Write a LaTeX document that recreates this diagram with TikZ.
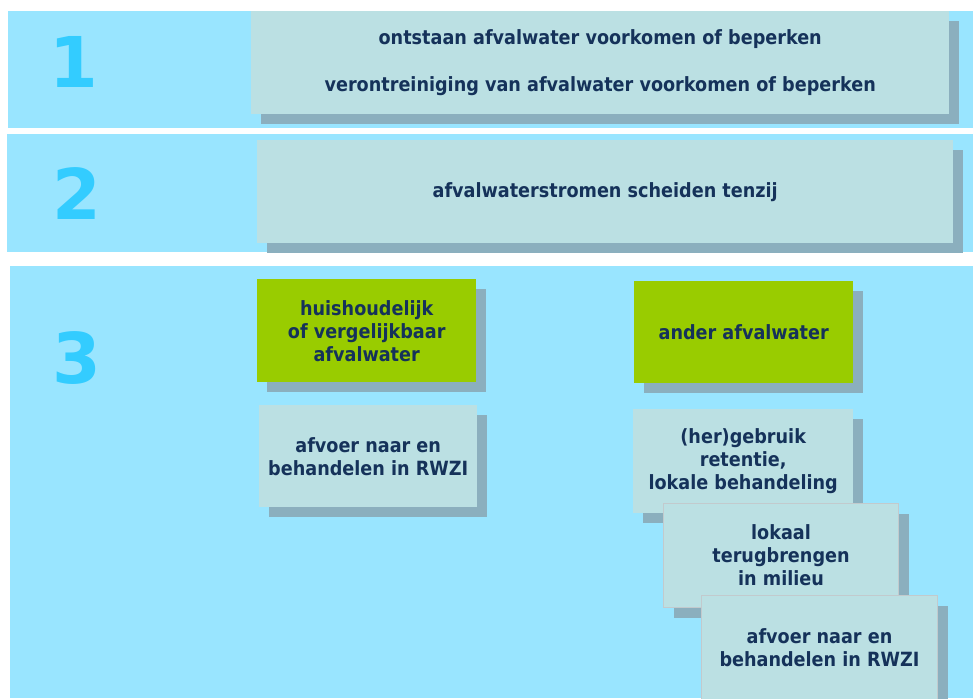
\documentclass[tikz,border=0pt]{standalone}
\usepackage{fontspec}
\newfontfamily\boxfont{DejaVu Sans Condensed}
\newfontfamily\numfont{DejaVu Sans}
\usetikzlibrary{shadows}

\definecolor{panelblue}{HTML}{99E5FF}
\definecolor{numblue}{HTML}{33CCFF}
\definecolor{boxfill}{HTML}{BBE0E3}
\definecolor{shadowcol}{HTML}{8BAFBE}
\definecolor{leafgreen}{HTML}{99CC00}
\definecolor{textnavy}{HTML}{15325A}
\definecolor{bordergrey}{HTML}{C2CACD}

\begin{document}
\begin{tikzpicture}[x=1pt, y=-1pt,
  panel/.style={fill=panelblue, draw=none},
  number/.style={text=numblue, font=\numfont\bfseries\fontsize{70}{70}\selectfont, inner sep=0pt},
  infobox/.style={fill=boxfill, draw=none, anchor=north west, inner sep=0pt, align=center,
    text=textnavy, font=\boxfont\bfseries\fontsize{19.6}{23}\selectfont,
    drop shadow={shadow xshift=10pt, shadow yshift=-10pt, fill=shadowcol, opacity=1}},
  greenbox/.style={infobox, fill=leafgreen},
  edgebox/.style={infobox, draw=bordergrey, line width=1pt}]
\useasboundingbox[fill=white] (0,0) rectangle (973,698);
% the three steps
\fill[panel] (8,11) rectangle (973,128);
\fill[panel] (7,134) rectangle (973,252);
\fill[panel] (10,266) rectangle (973,698);
\node[number] (N1) at (74,62) {1};
\node[number] (N2) at (77,194) {2};
\node[number] (N3) at (77,358) {3};
% step 1 and 2
\node[infobox, minimum width=698pt, minimum height=103pt] (B1) at (251,11) {ontstaan afvalwater voorkomen of beperken\\[24pt]verontreiniging van afvalwater voorkomen of beperken};
\node[infobox, minimum width=696pt, minimum height=103pt] (B2) at (257,140) {afvalwaterstromen scheiden tenzij};
% step 3, left column
\node[greenbox, minimum width=219pt, minimum height=103pt] (H) at (257,279) {huishoudelijk\\of vergelijkbaar\\afvalwater};
\node[infobox, minimum width=218pt, minimum height=102pt] (R1) at (259,405) {afvoer naar en\\behandelen in RWZI};
% step 3, right column
\node[greenbox, minimum width=219pt, minimum height=102pt] (A) at (634,281) {ander afvalwater};
\node[infobox, minimum width=220pt, minimum height=104pt] (G) at (633,409) {(her)gebruik\\retentie,\\lokale behandeling};
\node[edgebox, minimum width=235pt, minimum height=104pt] (L) at (663,503) {lokaal\\terugbrengen\\in milieu};
\node[edgebox, minimum width=236pt, minimum height=104pt] (R2) at (701,595) {afvoer naar en\\behandelen in RWZI};
\end{tikzpicture}
\end{document}
